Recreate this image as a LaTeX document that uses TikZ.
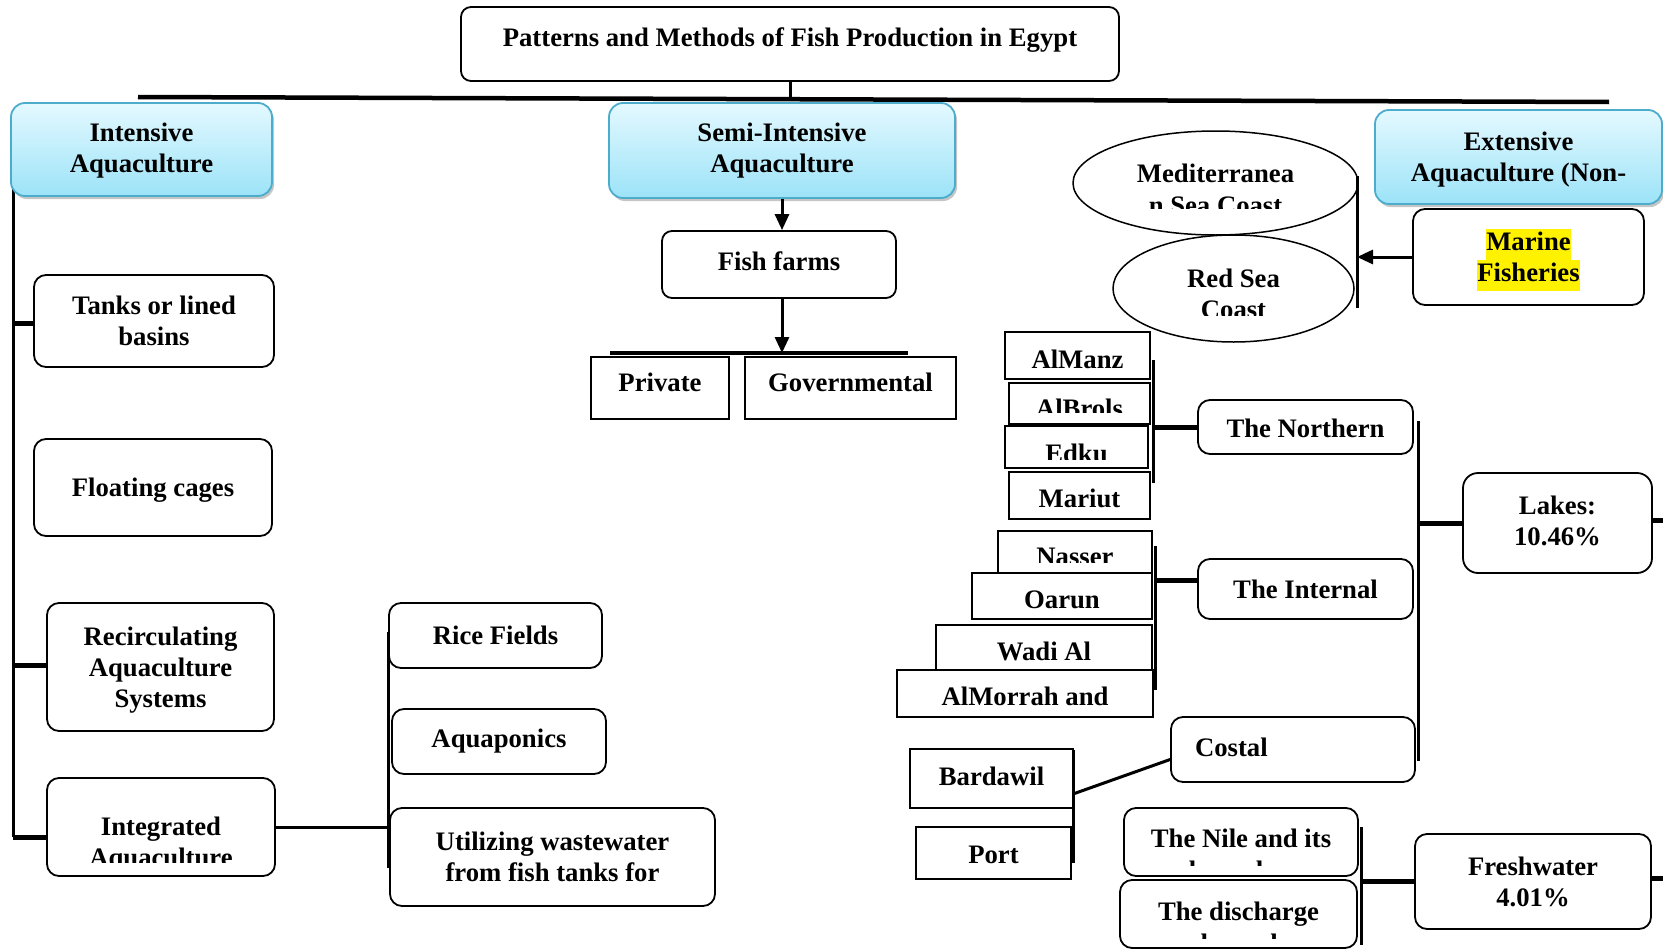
\documentclass[tikz,border=0pt]{standalone}
\usepackage{fontspec}
\setmainfont{Liberation Serif}
\usetikzlibrary{arrows.meta,shapes.geometric,shadows}
\definecolor{headtop}{RGB}{228,249,255}
\definecolor{headbot}{RGB}{156,227,248}
\definecolor{headedge}{RGB}{75,172,204}
\newcommand\hilite[1]{{\setlength\fboxsep{0pt}\colorbox{yellow}{\strut #1}}}
\tikzset{
	head/.style={draw=headedge, line width=1.8pt, rounded corners=14pt, top color=headtop, bottom color=headbot,
		drop shadow={shadow xshift=2pt, shadow yshift=-3pt, fill=black!45}, align=center, inner sep=0pt},
	rbox/.style={draw, line width=1.8pt, rounded corners=12pt, fill=white, align=center, inner sep=0pt},
	sbox/.style={draw, line width=1.8pt, fill=white, align=center, inner sep=0pt},
	oval/.style={draw, ellipse, line width=1.5pt, fill=white, inner sep=0pt},
	txt/.style={inner sep=0pt, anchor=base},
	ttxt/.style={inner sep=0pt, align=center},
	tlow/.style={text height=#1},
	thigh/.style={text depth=#1},
	link/.style={line width=3pt},
	stub/.style={line width=5pt},
	arr/.style={line width=3pt, -{Triangle[width=14pt,length=16pt]}},
}

\begin{document}
\begin{tikzpicture}[x=1pt, y=-1pt, font=\fontsize{26.7pt}{31pt}\selectfont\bfseries]
		\useasboundingbox (0,0) rectangle (1663,950);
		%%%%% START %%%%%
		
		% title and main bar
		\coordinate (bar-l) at (138,97);
		\coordinate (bar-m) at (790,99);
		\coordinate (bar-r) at (1609,102);
		\draw[line width=4.5pt] (bar-l) -- (bar-r);
		\node[rbox, rounded corners=10pt, thigh=13.7pt, minimum width=658pt, minimum height=74pt] (title) at (790,44) {Patterns and Methods of Fish Production in Egypt};
		\draw[link] (title.south) -- (bar-m);
		
		% intensive
		\coordinate (lb-top) at (13,160);
		\coordinate (lb-tank) at (13,323);
		\coordinate (lb-rec) at (13,665);
		\coordinate (lb-bot) at (13,837);
		\draw[link] (lb-top) -- (lb-bot);
		\node[head, minimum width=261pt, minimum height=93pt] (intensive) at (141.5,149.5) {};
		\node[ttxt] (intensive-t) at ([yshift=-1pt]intensive.center) {Intensive\\Aquaculture};
		
		\node[rbox, minimum width=240pt, minimum height=92pt] (tanks) at (154,321) {Tanks or lined\\basins};
		\node[rbox, tlow=23.6pt, minimum width=238pt, minimum height=97pt] (cages) at (153,487.5) {Floating cages};
		\node[rbox, minimum width=227pt, minimum height=128pt] (recirc) at (160.5,667) {};
		\node[ttxt] (recirc-t) at ([yshift=-3pt]recirc.center) {Recirculating\\Aquaculture\\Systems};
		\node[rbox, minimum width=228pt, minimum height=98pt] (integ) at (161,827) {};
		\begin{scope}
			\clip (integ.north west) rectangle ([yshift=14pt]integ.south east);
			\node[txt] (integ-a) at (161,835) {Integrated};
			\node[txt] (integ-b) at (161,866) {Aquaculture};
		\end{scope}
		\draw[stub] (lb-tank) -- (lb-tank -| tanks.west);
		\draw[stub] (lb-rec) -- (lb-rec -| recirc.west);
		\draw[stub] (lb-bot) -- (lb-bot -| integ.west);
		
		\coordinate (ib-top) at (388,632);
		\coordinate (ib-bot) at (388,868);
		\draw[link] (ib-top) -- (ib-bot);
		\draw[link] (integ.east) -- (integ.east -| ib-top);
		\node[rbox, minimum width=213pt, minimum height=65pt] (rice) at (495.5,635.5) {Rice Fields};
		\node[rbox, minimum width=214pt, minimum height=65pt] (aquap) at (499,741.5) {Aquaponics};
		\node[rbox, minimum width=325pt, minimum height=98pt] (waste) at (552.5,857) {Utilizing wastewater\\from fish tanks for};
		
		% semi-intensive
		\node[head, minimum width=346pt, minimum height=95pt] (semi) at (782,150.5) {Semi-Intensive\\Aquaculture};
		\node[rbox, rounded corners=10pt, thigh=6pt, minimum width=234pt, minimum height=67pt] (farms) at (779,264.5) {Fish farms};
		\draw[arr] (semi.south) -- (semi.south |- farms.north);
		
		\coordinate (pg-l) at (610,353);
		\coordinate (pg-r) at (908,353);
		\draw[line width=4.5pt] (pg-l) -- (pg-r);
		\draw[arr] (farms.south -| semi.south) -- (semi.south |- pg-l);
		\node[sbox, thigh=11.7pt, minimum width=138pt, minimum height=62pt] (private) at (660,388) {Private};
		\node[sbox, thigh=11.7pt, minimum width=211pt, minimum height=62pt] (govt) at (850.5,388) {Governmental};
		
		% extensive
		\node[head, minimum width=287pt, minimum height=94pt] (extensive) at (1518.5,157) {};
		\node[ttxt] (extensive-t) at ([yshift=-3pt]extensive.center) {Extensive\\Aquaculture (Non-};
		
		\coordinate (mb-top) at (1357,176);
		\coordinate (mb-bot) at (1357,308);
		\node[oval, minimum width=285pt, minimum height=104pt] (med) at (1215.5,183) {};
		\coordinate (med-cut) at (1358,208);
		\begin{scope}
			\clip (med.west |- med.north) rectangle (med-cut);
			\node[txt] (med-a) at (1215.5,182) {Mediterranea};
			\node[txt] (med-b) at (1215.5,214) {n Sea Coast};
		\end{scope}
		\node[oval, minimum width=241pt, minimum height=107pt] (red) at (1233.5,288.5) {};
		\coordinate (red-cut) at (1354,315);
		\begin{scope}
			\clip (red.west |- red.north) rectangle (red-cut);
			\node[txt] (red-a) at (1233.5,287) {Red Sea};
			\node[txt] (red-b) at (1233.5,318) {Coast};
		\end{scope}
		\draw[link] (mb-top) -- (mb-bot);
		\node[rbox, minimum width=231pt, minimum height=96pt] (marine) at (1528.5,257) {};
		\node[ttxt] (marine-t) at ([yshift=-3pt]marine.center) {\hilite{Marine}\\\hilite{Fisheries}};
		\draw[arr] (marine.west) -- (marine.west -| mb-top);
		
		% lakes
		\coordinate (nb-top) at (1153,360);
		\coordinate (nb-bot) at (1153,483);
		\draw[link] (nb-top) -- (nb-bot);
		\node[sbox, tlow=25.6pt, minimum width=145pt, minimum height=47pt] (almanz) at (1077.5,355.5) {AlManz};
		\node[sbox, minimum width=141pt, minimum height=41pt] (albrols) at (1079.5,403.5) {};
		\begin{scope}
			\clip (albrols.north west) rectangle ([yshift=12pt]albrols.south east);
			\node[txt] (albrols-a) at (1079.5,417) {AlBrols};
		\end{scope}
		\node[sbox, minimum width=143pt, minimum height=42pt] (edku) at (1076.5,447) {};
		\begin{scope}
			\clip (edku.north west) rectangle ([yshift=9pt]edku.south east);
			\node[txt] (edku-a) at (1076.5,462) {Edku};
		\end{scope}
		\node[sbox, tlow=23.4pt, minimum width=141pt, minimum height=47pt] (mariut) at (1079.5,495.5) {Mariut};
		\node[rbox, tlow=21.6pt, minimum width=215pt, minimum height=54pt] (north) at (1305.5,427) {The Northern};
		\draw[stub] (nb-top |- north.west) -- (north.west);
		
		\coordinate (ib2-top) at (1155,546);
		\coordinate (ib2-mid) at (1155,580);
		\coordinate (ib2-bot) at (1155,690);
		\draw[link] (ib2-top) -- (ib2-bot);
		\node[sbox, minimum width=154pt, minimum height=42pt] (nasser) at (1075,552) {};
		\begin{scope}
			\clip (nasser.north west) rectangle ([yshift=11pt]nasser.south east);
			\node[txt] (nasser-a) at (1075,565) {Nasser};
		\end{scope}
		\node[sbox, tlow=25.5pt, minimum width=180pt, minimum height=46pt] (oarun) at (1062,596) {Oarun};
		\node[sbox, tlow=25.6pt, minimum width=216pt, minimum height=45pt] (wadi) at (1044,647.5) {Wadi Al};
		\node[sbox, tlow=23.6pt, minimum width=256pt, minimum height=47pt] (almorrah) at (1025,693.5) {AlMorrah and};
		\node[rbox, minimum width=215pt, minimum height=60pt] (internal) at (1305.5,589) {The Internal};
		\draw[stub] (ib2-mid) -- (ib2-mid -| internal.west);
		
		\coordinate (cb-top) at (1073,750);
		\coordinate (cb-mid) at (1073,794);
		\coordinate (cb-bot) at (1073,863);
		\node[sbox, thigh=4pt, minimum width=163pt, minimum height=59pt] (bardawil) at (991.5,778.5) {Bardawil};
		\node[sbox, tlow=21.2pt, minimum width=155pt, minimum height=52pt] (port) at (993.5,853) {Port};
		\draw[link] (cb-top) -- (cb-bot);
		\node[rbox, thigh=4pt, minimum width=244pt, minimum height=65pt, text width=196pt, inner xsep=24pt, align=left] (costal) at (1293,749.5) {Costal};
		\draw[link] (cb-mid) -- ([yshift=-10pt]costal.west);
		
		\coordinate (lk-top) at (1418,421);
		\coordinate (lk-bot) at (1418,761);
		\coordinate (lk-out) at (1672,520);
		\draw[link] (lk-top) -- (lk-bot);
		\node[rbox, rounded corners=15pt, minimum width=189pt, minimum height=100pt] (lakes) at (1557.5,523) {};
		\node[ttxt] (lakes-t) at ([yshift=2pt]lakes.center) {Lakes:\\10.46\%};
		\draw[stub] (lk-top |- lakes.west) -- (lakes.west);
		\draw[stub] (lakes.east |- lk-out) -- (lk-out);
		
		% freshwater
		\coordinate (fb-top) at (1361,827);
		\coordinate (fb-bot) at (1361,945);
		\coordinate (fw-out) at (1672,878);
		\draw[link] (fb-top) -- (fb-bot);
		\node[rbox, minimum width=234pt, minimum height=68pt] (nile) at (1241,842) {};
		\begin{scope}
			\clip (nile.north west) rectangle ([yshift=11pt]nile.south east);
			\node[txt] (nile-a) at (1241,847) {The Nile and its};
			\node[txt] (nile-b) at (1241,879) {branches};
		\end{scope}
		\node[rbox, minimum width=237pt, minimum height=68pt] (discharge) at (1238.5,914) {};
		\begin{scope}
			\clip (discharge.north west) rectangle ([yshift=10pt]discharge.south east);
			\node[txt] (discharge-a) at (1238.5,920) {The discharge};
			\node[txt] (discharge-b) at (1238.5,952) {channels};
		\end{scope}
		\node[rbox, minimum width=236pt, minimum height=95pt] (fresh) at (1533,881.5) {Freshwater\\4.01\%};
		\draw[stub] (fb-top |- fresh.west) -- (fresh.west);
		\draw[stub] (fresh.east |- fw-out) -- (fw-out);
		
		%%%%% END %%%%%
	\end{tikzpicture}
\end{document}
